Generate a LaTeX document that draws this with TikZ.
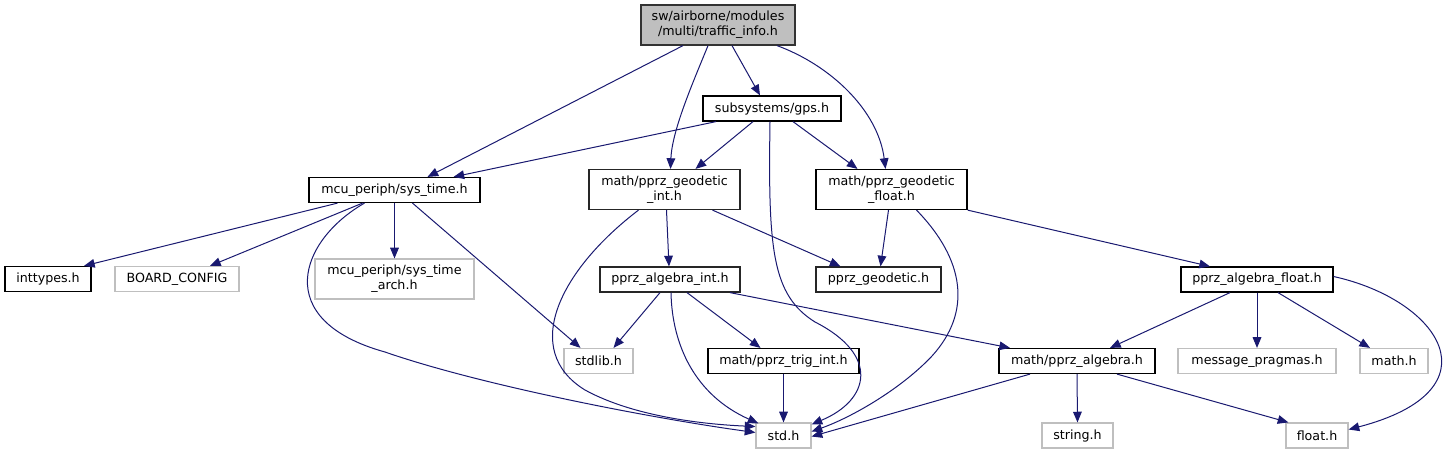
\documentclass[tikz,border=0pt]{standalone}
\usepackage{fontspec}
\setmainfont{DejaVu Sans}
\usepackage{tikz}
\usetikzlibrary{arrows.meta,calc}
\definecolor{edgeblue}{HTML}{191970}
\definecolor{missgray}{HTML}{BFBFBF}

\begin{document}
\begin{tikzpicture}[
    x=0.75pt, y=-0.75pt,
    file/.style={rectangle, draw=black, line width=0.9pt, fill=white, inner sep=1pt, align=center, minimum height=18.75pt, font=\fontsize{9.5pt}{11.25pt}\selectfont},
    docfile/.style={file, draw=black!85},
    missing/.style={file, draw=missgray},
    current/.style={file, draw=black!80, fill=missgray},
    dep/.style={-{Triangle[length=8pt,width=6.5pt]}, draw=edgeblue, line width=0.75pt}
]
    \useasboundingbox (0,0) rectangle (1452,455);

    % rows of the include graph
    \node[current, minimum width=115.5pt, minimum height=30pt] (traffic) at (718,25) {sw/airborne/modules\\/multi/traffic\_info.h};
    \node[file, minimum width=103.5pt] (gps) at (772,108.5) {subsystems/gps.h};
    \node[file, minimum width=128.25pt] (systime) at (394.5,190) {mcu\_periph/sys\_time.h};
    \node[docfile, minimum width=113.25pt, minimum height=30pt] (geoint) at (664.5,189.5) {math/pprz\_geodetic\\\_int.h};
    \node[file, minimum width=113.25pt, minimum height=30pt] (geofloat) at (891.5,189.5) {math/pprz\_geodetic\\\_float.h};
    \node[file, minimum width=64.5pt] (inttypes) at (48,279) {inttypes.h};
    \node[missing, minimum width=93pt] (board) at (177,279) {BOARD\_CONFIG};
    \node[missing, minimum width=119.25pt, minimum height=30pt] (systimearch) at (394.5,279) {mcu\_periph/sys\_time\\\_arch.h};
    \node[docfile, minimum width=105pt] (algint) at (670,279.5) {pprz\_algebra\_int.h};
    \node[docfile, minimum width=93.75pt] (geodetic) at (878.5,279.5) {pprz\_geodetic.h};
    \node[file, minimum width=114pt] (algfloat) at (1257,279.5) {pprz\_algebra\_float.h};
    \node[missing, minimum width=51.75pt] (stdlib) at (598.5,361) {stdlib.h};
    \node[file, minimum width=113.25pt] (trigint) at (783.5,361) {math/pprz\_trig\_int.h};
    \node[file, minimum width=117pt] (algebra) at (1077,361) {math/pprz\_algebra.h};
    \node[missing, minimum width=118.5pt] (pragmas) at (1257,361) {message\_pragmas.h};
    \node[missing, minimum width=51pt] (math) at (1394,361) {math.h};
    \node[missing, minimum width=41.25pt] (std) at (783.5,435.5) {std.h};
    \node[missing, minimum width=53.25pt] (string) at (1077.5,435.5) {string.h};
    \node[missing, minimum width=46.5pt] (float) at (1317,435.5) {float.h};

    % from traffic_info.h
    \draw[dep] ($(traffic.south)+(-35,0)$) -- ($(systime.north)+(33,0)$);
    \draw[dep] ($(traffic.south)+(-10,0)$) .. controls (694,80) and (672,130) .. ($(geoint.north)+(6,0)$);
    \draw[dep] ($(traffic.south)+(14,0)$) -- ($(gps.north)+(-12,0)$);
    \draw[dep] ($(traffic.south)+(59,0)$) .. controls (830,65) and (878,110) .. ($(geofloat.north)+(-6,0)$);

    % from gps.h
    \draw[dep] ($(gps.south)+(-56,0)$) -- ($(systime.north)+(59,0)$);
    \draw[dep] ($(gps.south)+(-19,0)$) -- ($(geoint.north)+(31,0)$);
    \draw[dep] ($(gps.south)+(-2,0)$) .. controls (768,250) and (772,295) .. (815,322) .. controls (880,355) and (870,400) .. ($(std.north east)+(0,2)$);
    \draw[dep] ($(gps.south)+(21,0)$) -- ($(geofloat.north)+(-34,0)$);

    % from sys_time.h
    \draw[dep] ($(systime.south)+(-57,0)$) -- ($(inttypes.north)+(36,0)$);
    \draw[dep] ($(systime.south)+(-32,0)$) -- ($(board.north)+(33,0)$);
    \draw[dep] (systime.south) -- (systimearch.north);
    \draw[dep] ($(systime.south)+(18,0)$) -- ($(stdlib.north)+(-18,0)$);
    \draw[dep] ($(systime.south)+(-30,0)$) .. controls (300,240) and (270,320) .. (385,352) .. controls (480,385) and (650,418) .. ($(std.west)+(0,-3)$);

    % from pprz_geodetic_int.h and _float.h
    \draw[dep] ($(geoint.south)+(-26,0)$) .. controls (560,270) and (520,350) .. (585,390) .. controls (640,420) and (720,425) .. ($(std.west)+(0,-9)$);
    \draw[dep] ($(geoint.south)+(2,0)$) -- ($(algint.north)+(-1,0)$);
    \draw[dep] ($(geoint.south)+(48,0)$) -- ($(geodetic.north)+(-38,0)$);
    \draw[dep] ($(geofloat.south)+(-3,0)$) -- ($(geodetic.north)+(2,0)$);
    \draw[dep] ($(geofloat.south)+(25,0)$) .. controls (965,260) and (972,312) .. (932,356) .. controls (900,390) and (850,418) .. ($(std.east)+(0,-4)$);
    \draw[dep] (geofloat.south east) -- ($(algfloat.north)+(-47,0)$);

    % from pprz_algebra_int.h
    \draw[dep] ($(algint.south)+(-10,0)$) -- ($(stdlib.north)+(15,0)$);
    \draw[dep] ($(algint.south)+(1,0)$) .. controls (672,345) and (695,395) .. ($(std.north west)+(3,1)$);
    \draw[dep] ($(algint.south)+(17,0)$) -- ($(trigint.north)+(-23,0)$);
    \draw[dep] ($(algint.south)+(60,0)$) -- ($(algebra.north)+(-67,0)$);
    \draw[dep] (trigint.south) -- (std.north);

    % from pprz_algebra.h and pprz_algebra_float.h
    \draw[dep] ($(algebra.south)+(-47,0)$) -- ($(std.east)+(0,1)$);
    \draw[dep] (algebra.south) -- (string.north);
    \draw[dep] ($(algebra.south)+(40,0)$) -- ($(float.north west)+(3,0)$);
    \draw[dep] ($(algfloat.south)+(-27,0)$) -- ($(algebra.north)+(33,0)$);
    \draw[dep] (algfloat.south) -- (pragmas.north);
    \draw[dep] ($(algfloat.south)+(21,0)$) -- ($(math.north)+(-24,0)$);
    \draw[dep] ($(algfloat.east)+(0,-3)$) .. controls (1440,300) and (1500,390) .. ($(float.east)+(0,-6)$);
\end{tikzpicture}
\end{document}
